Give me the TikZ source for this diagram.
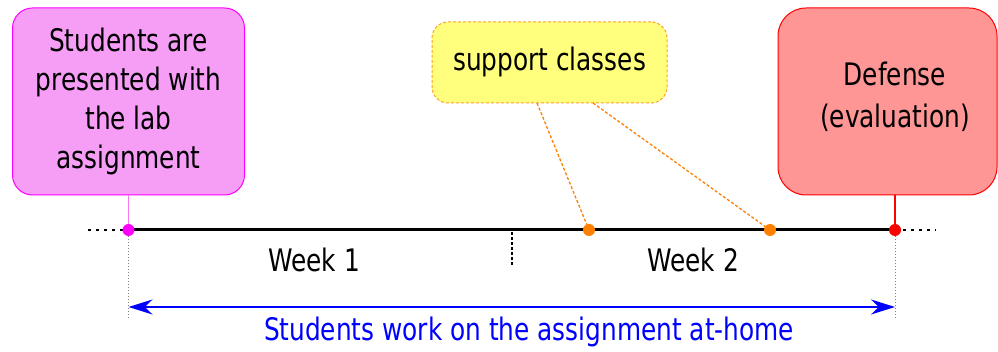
\documentclass[tikz,border=0pt]{standalone}
\usepackage{fontspec}
\setmainfont[FakeStretch=0.8]{DejaVu Sans}
\usetikzlibrary{arrows.meta}
\definecolor{mag}{RGB}{255,0,255}
\definecolor{magfill}{RGB}{246,158,246}
\definecolor{magline}{RGB}{245,120,245}
\definecolor{yelfill}{RGB}{255,255,125}
\definecolor{yelline}{RGB}{255,160,40}
\definecolor{org}{RGB}{255,128,0}
\definecolor{redfill}{RGB}{255,150,150}
\definecolor{rd}{RGB}{255,0,0}
\definecolor{bl}{RGB}{0,0,255}
\tikzset{
  txt/.style={font=\fontsize{31}{39}\selectfont, inner sep=0pt, align=center},
  dotnode/.style={circle, fill=#1, inner sep=0pt, minimum size=12pt},
  dotext/.style={line width=2.5pt, dash pattern=on 3pt off 5pt},
  guide/.style={gray, line width=1pt, dotted},
  lead/.style={line width=1.3pt, densely dashed}
}
\begin{document}
\begin{tikzpicture}[x=1pt,y=-1pt]
\useasboundingbox (0,0) rectangle (998,352);

% boxes
\node[draw=mag, line width=1pt, fill=magfill, rounded corners=20pt,
      minimum width=232pt, minimum height=187pt, txt] (pink) at (128.5,101.5)
      {Students are\\presented with\\the lab\\assignment};
\node[draw=yelline, lead, line width=1pt, fill=yelfill, rounded corners=16pt,
      minimum width=235pt, minimum height=81pt, txt] (yel) at (549.5,62.5)
      {\strut support classes};
\node[draw=rd, line width=1pt, fill=redfill, rounded corners=28pt,
      minimum width=219pt, minimum height=187pt] (redbox) at (887.5,101.5) {};
\node[txt, font=\fontsize{31}{42}\selectfont] (redtxt) at (895,97) {Defense\\(evaluation)};

% timeline coordinates
\coordinate (t0) at (128.5,230);
\coordinate (t1) at (895,230);
\coordinate (l0) at (88,230);
\coordinate (r1) at (936,230);
\coordinate (o1) at (589,230);
\coordinate (o2) at (770,230);
\coordinate (tk0) at (512,232);
\coordinate (tk1) at (512,266);
\coordinate (b0) at (128.5,318);
\coordinate (b1) at (895,318);
\coordinate (a0) at (128.5,307);
\coordinate (a1) at (895,307);
\coordinate (y1) at (537,103);
\coordinate (y2) at (593,103);

% connectors from boxes
\draw[magline, line width=1.2pt] (pink.south) -- (t0);
\draw[rd, line width=1.2pt] (redbox.south -| t1) -- (t1);
\draw[org, lead] (y1) -- (o1);
\draw[org, lead] (y2) -- (o2);

% timeline
\draw[line width=3pt] (t0) -- (t1);
\draw[dotext] (l0) -- (t0);
\draw[dotext] (t1) -- (r1);
\draw[line width=1.2pt, densely dashed] (tk0) -- (tk1);
\draw[guide] (t0) -- (b0);
\draw[guide] (t1) -- (b1);

% dots
\node[dotnode=mag] (d0) at (t0) {};
\node[dotnode=org] (d1) at (o1) {};
\node[dotnode=org] (d2) at (o2) {};
\node[dotnode=rd] (d3) at (t1) {};

% blue span arrow
\draw[bl, line width=1.8pt, {Stealth[length=24pt,width=15pt]}-{Stealth[length=24pt,width=15pt]}] (a0) -- (a1);

% labels
\node[txt] (w1) at (314,260) {Week 1};
\node[txt] (w2) at (693,260) {Week 2};
\node[txt, text=bl] (work) at (529,333) {\strut Students work on the assignment at-home};
\end{tikzpicture}
\end{document}
